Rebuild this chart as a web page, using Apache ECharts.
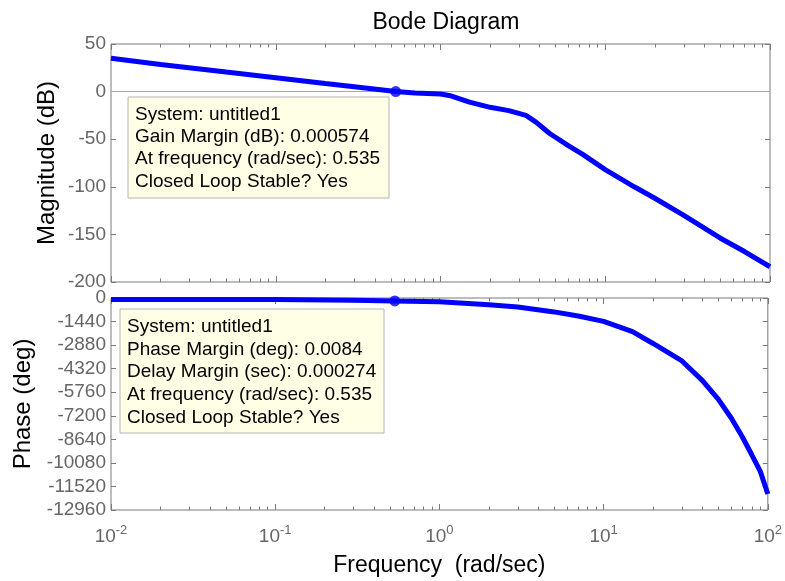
<!DOCTYPE html>
<html>
<head>
<meta charset="utf-8">
<script src="https://cdn.jsdelivr.net/npm/echarts@6/dist/echarts.min.js"></script>
<style>html,body{margin:0;padding:0;background:#fff}#main{width:785px;height:581px}</style>
</head>
<body>
<div id="main"></div>
<script>
// magnitude curve (rad/sec, dB)
var freq = [0.01, 0.02, 0.05, 0.1, 0.2, 0.3, 0.535, 0.7, 1, 1.13, 1.5, 2, 2.6, 3.3, 3.8, 4.6, 6, 7.3, 10, 15, 20, 30, 50, 70, 100];
var magDb = [35, 28.5, 20.5, 14.6, 8.5, 5, 0, -1.5, -2.5, -4, -11, -16.5, -20, -25, -32, -44, -57, -66, -82, -100, -112, -130, -154, -168, -184];
// phase curve (rad/sec, deg)
var phaseFreq = [0.01, 0.1, 0.3, 0.535, 1, 2, 3, 5, 7, 10, 15, 20, 30, 40, 50, 60, 70, 80, 90, 100];
var phaseDeg = [-90, -95, -130, -180, -230, -416, -550, -850, -1100, -1430, -2060, -2780, -3850, -5050, -6200, -7350, -8500, -9600, -10600, -11980];
// crossover marker
var crossFreq = 0.535, crossMag = 0, crossPhase = -180;
// axes
var decades = [0.01, 0.1, 1, 10, 100];
var decadeExp = ['-2', '-1', '0', '1', '2'];
var magTicks = [-200, -150, -100, -50, 0, 50];
var phaseTicks = [-12960, -11520, -10080, -8640, -7200, -5760, -4320, -2880, -1440, 0];
var gainTip = ['System: untitled1', 'Gain Margin (dB): 0.000574', 'At frequency (rad/sec): 0.535', 'Closed Loop Stable? Yes'];
var phaseTip = ['System: untitled1', 'Phase Margin (deg): 0.0084', 'Delay Margin (sec): 0.000274', 'At frequency (rad/sec): 0.535', 'Closed Loop Stable? Yes'];

var minorTicks = [];
for (var d = 0; d < decades.length - 1; d++) {
	for (var k = 2; k <= 9; k++) minorTicks.push(+(decades[d] * k).toPrecision(3));
}

var FONT = 'Liberation Sans, Arial, sans-serif';
var AX = '#7a7a7a';

function pairs(xs, ys) {
	var out = [];
	for (var i = 0; i < xs.length; i++) out.push([xs[i], ys[i]]);
	return out;
}

function xAx(grid, pos, len, minor, label) {
	var a = {
		type: 'log', logBase: 10, gridIndex: grid, position: pos, min: 0.01, max: 100,
		axisLine: {show: false, onZero: false},
		splitLine: {show: false},
		axisTick: {show: true, inside: true, length: len, lineStyle: {color: AX}},
		axisLabel: {show: false}
	};
	if (minor) a.axisTick.customValues = minorTicks;
	if (label) {
		a.axisLabel = {
			show: true, margin: 14, color: '#666', fontFamily: FONT,
			formatter: function(v){
				var i = decades.indexOf(v);
				var e = i >= 0 ? decadeExp[i] : String(Math.round(Math.log10(v)));
				return '{b|10}{s|' + e + '}';
			},
			rich: {
				b: {fontSize: 19, color: '#666', fontFamily: FONT},
				s: {fontSize: 13, color: '#666', fontFamily: FONT, padding: [0, 0, 12, 0]}
			}
		};
		a.name = 'Frequency  (rad/sec)';
		a.nameLocation = 'middle';
		a.nameGap = 44;
		a.nameTextStyle = {fontSize: 23, color: '#000', fontFamily: FONT};
	}
	return a;
}

function yAx(grid, pos, min, max, step, name, gap) {
	var a = {
		type: 'value', gridIndex: grid, position: pos, min: min, max: max, interval: step,
		axisLine: {show: false, onZero: false},
		splitLine: {show: false},
		axisTick: {show: true, inside: true, length: 5, lineStyle: {color: AX}},
		axisLabel: {show: pos == 'left', margin: 5, color: '#666', fontSize: 19, fontFamily: FONT,
			formatter: function(v){ return String(v); }}
	};
	if (name) {
		a.name = name;
		a.nameLocation = 'middle';
		a.nameGap = gap;
		a.nameMoveOverlap = false;
		a.nameTextStyle = {fontSize: 24, color: '#000', fontFamily: FONT};
	}
	return a;
}

function tipBox(x, y, w, h, lines, lh) {
	var kids = [{type: 'rect', shape: {x: 0, y: 0, width: w, height: h},
		style: {fill: '#ffffe6', stroke: '#b4b4b4', lineWidth: 1}}];
	for (var i = 0; i < lines.length; i++) {
		kids.push({type: 'text', x: 7, y: 8 + i * lh,
			style: {text: lines[i], fill: '#000', font: '19px ' + FONT}});
	}
	return {type: 'group', x: x, y: y, z: 100, children: kids};
}

var option = {
	backgroundColor: '#fff',
	animation: false,
	title: {
		text: 'Bode Diagram', left: 441, top: 6, textAlign: 'center',
		textStyle: {fontSize: 23, fontWeight: 'normal', color: '#000', fontFamily: FONT}
	},
	grid: [
		{left: 111, top: 44, width: 659, height: 238, show: true, borderColor: AX, borderWidth: 1},
		{left: 111, top: 298, width: 659, height: 212, show: true, borderColor: AX, borderWidth: 1}
	],
	xAxis: [
		xAx(0, 'bottom', 6, false, false),
		xAx(0, 'bottom', 3.5, true, false),
		xAx(0, 'top', 6, false, false),
		xAx(0, 'top', 3.5, true, false),
		xAx(1, 'bottom', 6, false, true),
		xAx(1, 'bottom', 3.5, true, false),
		xAx(1, 'top', 6, false, false),
		xAx(1, 'top', 3.5, true, false)
	],
	yAxis: [
		yAx(0, 'left', magTicks[0], magTicks[magTicks.length - 1], 50, 'Magnitude (dB)', 52),
		yAx(0, 'right', magTicks[0], magTicks[magTicks.length - 1], 50),
		yAx(1, 'left', phaseTicks[0], phaseTicks[phaseTicks.length - 1], 1440, 'Phase (deg)', 76),
		yAx(1, 'right', phaseTicks[0], phaseTicks[phaseTicks.length - 1], 1440)
	],
	series: [
		{
			type: 'line', xAxisIndex: 0, yAxisIndex: 0, data: pairs(freq, magDb),
			showSymbol: false, lineStyle: {color: '#0000ff', width: 5}, z: 5,
			markLine: {silent: true, symbol: 'none', label: {show: false},
				lineStyle: {color: '#a8a8a8', type: 'solid', width: 1}, data: [{yAxis: 0}], z: 1}
		},
		{
			type: 'line', xAxisIndex: 4, yAxisIndex: 2, data: pairs(phaseFreq, phaseDeg),
			showSymbol: false, lineStyle: {color: '#0000ff', width: 5}, z: 5
		},
		{
			type: 'scatter', xAxisIndex: 0, yAxisIndex: 0, data: [[crossFreq, crossMag]],
			symbolSize: 11, itemStyle: {color: '#0000ff'}, z: 6
		},
		{
			type: 'scatter', xAxisIndex: 4, yAxisIndex: 2, data: [[crossFreq, crossPhase]],
			symbolSize: 11, itemStyle: {color: '#0000ff'}, z: 6
		}
	],
	graphic: [
		tipBox(128, 97, 261, 101, gainTip, 22.3),
		tipBox(120, 309, 264, 124, phaseTip, 22.8)
	]
};

var myChart = echarts.init(document.getElementById('main'));
myChart.setOption(option, true);
</script>
</body>
</html>
